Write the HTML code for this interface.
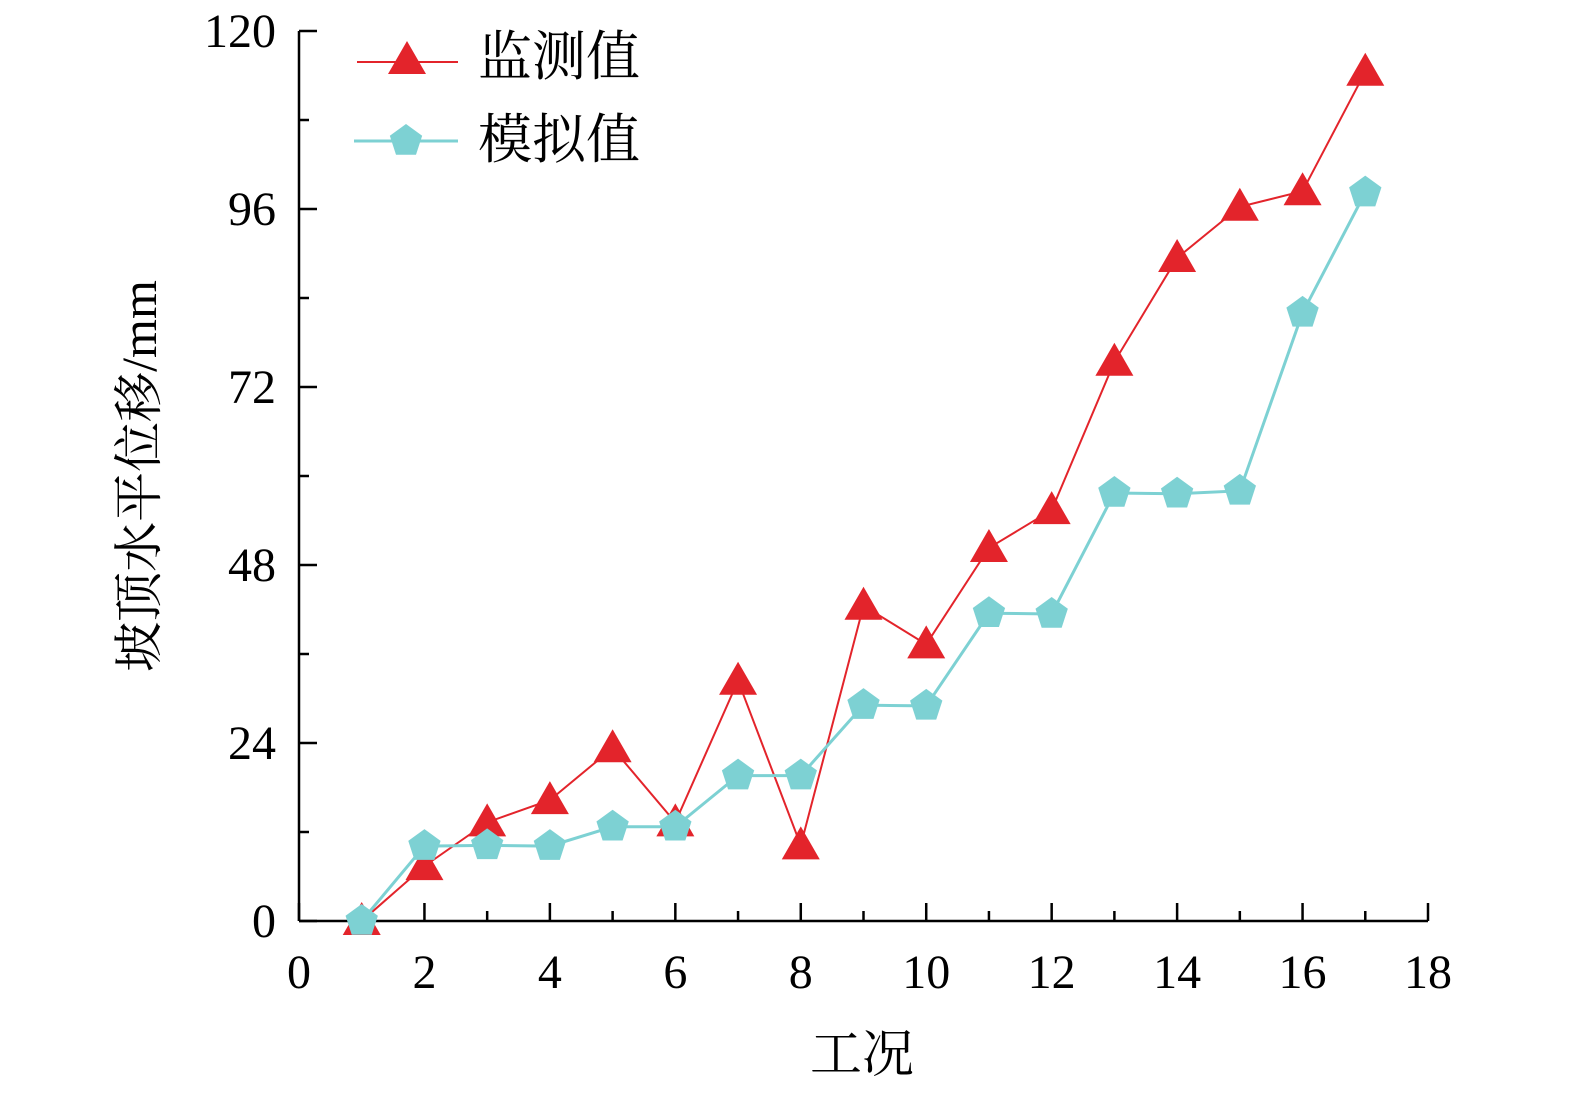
<!DOCTYPE html>
<html><head><meta charset="utf-8"><style>
html,body{margin:0;padding:0;background:#fff;overflow:hidden;width:1575px;height:1094px}
svg{display:block}
text{font-family:"Liberation Serif","Noto Serif CJK SC",serif;fill:#000}
</style></head><body>
<svg id="chart" width="1575" height="1094" xmlns="http://www.w3.org/2000/svg"></svg>
<script>
const categories=[1,2,3,4,5,6,7,8,9,10,11,12,13,14,15,16,17];
const measured=[0,7.4,13.3,16.3,23.3,13.3,32.4,10.2,42.5,37.3,50.3,55.4,75.4,89.4,96.3,98.4,114.5];
const simulated=[0,10.1,10.2,10.1,12.7,12.7,19.6,19.6,29.1,29.0,41.5,41.4,57.7,57.6,58.0,82.0,98.2];
const xTicks=[0,2,4,6,8,10,12,14,16,18];
const yTicks=[0,24,48,72,96,120];
const NS="http://www.w3.org/2000/svg";
const svg=document.getElementById('chart');
const X0=299,X1=1428,Y0=921,Y1=31;
const sx=v=>X0+(X1-X0)*v/18;
const sy=v=>Y0-(Y0-Y1)*v/120;
function el(t,a,p){const e=document.createElementNS(NS,t);for(const k in a)e.setAttribute(k,a[k]);(p||svg).appendChild(e);return e;}
let e;
e=el('line',{x1:X0,y1:Y0,x2:X1,y2:Y0,stroke:'#000','stroke-width':2.5});


e=el('line',{x1:X0,y1:Y0,x2:X0,y2:Y1,stroke:'#000','stroke-width':2.5});


for(let v=0;v<=18;v++){
  const maj=v%2===0;
  e=el('line',{x1:sx(v),y1:Y0,x2:sx(v),y2:Y0-(maj?18:10),stroke:'#000','stroke-width':2.5});
  
  
}
xTicks.forEach(v=>{
  e=el('text',{x:sx(v),y:988,'text-anchor':'middle','font-size':48});e.textContent=v;
  
  
});
for(let v=0;v<=120;v+=12){
  const maj=v%24===0;
  e=el('line',{x1:X0,y1:sy(v),x2:X0+(maj?18:10),y2:sy(v),stroke:'#000','stroke-width':2.5});
  
  
}
yTicks.forEach(v=>{
  e=el('text',{x:276,y:sy(v)+16,'text-anchor':'end','font-size':48});e.textContent=v;
  
  
});
e=el('text',{x:862,y:1072,'text-anchor':'middle','font-size':52});e.textContent='工况';


e=el('text',{x:0,y:0,'text-anchor':'middle','font-size':50,transform:'translate(156,476) rotate(-90)'});e.textContent='坡顶水平位移/mm';


function tri(cx,cy,c,p){return el('polygon',{points:`${cx},${cy-19} ${cx-19},${cy+14} ${cx+19},${cy+14}`,fill:c},p);}
function pent(cx,cy,c,p){let pts=[];for(let i=0;i<5;i++){const a=-Math.PI/2+i*2*Math.PI/5;pts.push((cx+17*Math.cos(a))+','+(cy+17*Math.sin(a)));}return el('polygon',{points:pts.join(' '),fill:c},p);}
function series(vals,color,w,marker,name){
  const g=el('g',{});
  
  
  el('polyline',{points:vals.map((v,i)=>sx(categories[i])+','+sy(v)).join(' '),fill:'none',stroke:color,'stroke-width':w},g);
  vals.forEach((v,i)=>{const m=marker(sx(categories[i]),sy(v),color,g);
    
    });
}
series(measured,'#e3242b',2,tri,'measured-series');
series(simulated,'#7dd1d3',3,pent,'simulated-series');
const lg=el('g',{});


el('line',{x1:357,y1:62,x2:458,y2:62,stroke:'#e3242b','stroke-width':2},lg);
tri(407,60,'#e3242b',lg);
e=el('text',{x:478,y:75,'font-size':54},lg);e.textContent='监测值';


el('line',{x1:354,y1:141,x2:458,y2:141,stroke:'#7dd1d3','stroke-width':3},lg);
pent(406,141,'#7dd1d3',lg);
e=el('text',{x:478,y:158,'font-size':54},lg);e.textContent='模拟值';


</script>
</body></html>
